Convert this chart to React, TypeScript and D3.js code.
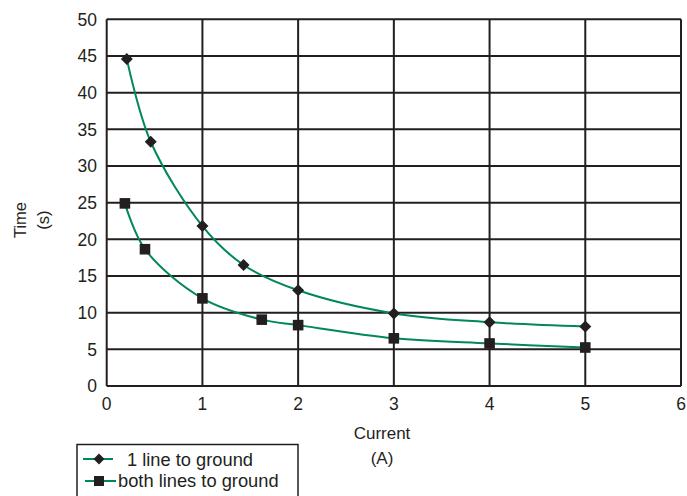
import React from "react";
import * as d3 from "d3";

const xTicks = [0, 1, 2, 3, 4, 5, 6];
const yTicks = [0, 5, 10, 15, 20, 25, 30, 35, 40, 45, 50];

const oneLineX = [0.21, 0.46, 1.0, 1.43, 2.0, 3.0, 4.0, 5.0];
const oneLineY = [44.6, 33.3, 21.8, 16.5, 13.05, 9.9, 8.7, 8.1];

const bothLinesX = [0.19, 0.4, 1.0, 1.62, 2.0, 3.0, 4.0, 5.0];
const bothLinesY = [24.9, 18.65, 11.95, 9.05, 8.3, 6.5, 5.8, 5.25];

const seriesNames = ["1 line to ground", "both lines to ground"];

const W = 687;
const H = 496;
const GREEN = "#00875a";
const INK = "#231f20";
const FONT = "'Liberation Sans', Arial, Helvetica, sans-serif";

export default function App() {
  const x = d3.scaleLinear().domain([0, 6]).range([106.7, 681]);
  const y = d3.scaleLinear().domain([0, 50]).range([386, 19.3]);

  const line = d3
    .line<[number, number]>()
    .x((d) => x(d[0]))
    .y((d) => y(d[1]))
    .curve(d3.curveCatmullRom.alpha(0.5));

  const s1: [number, number][] = oneLineX.map((v, i) => [v, oneLineY[i]]);
  const s2: [number, number][] = bothLinesX.map((v, i) => [v, bothLinesY[i]]);

  const diamond = (cx: number, cy: number, r = 6) =>
    `M${cx},${cy - r}L${cx + r},${cy}L${cx},${cy + r}L${cx - r},${cy}Z`;

  const fs = 17.5;

  return (
    <svg
      width={W}
      height={H}
      style={{ position: "absolute", left: 0, top: 0, background: "#fff" }}
      fontFamily={FONT}
    >
      {/* grid */}
      {yTicks.map((t) => (
        <line
          key={"gy" + t}
          x1={x(0)}
          x2={x(6)}
          y1={y(t)}
          y2={y(t)}
          stroke={INK}
          strokeWidth={2}
        />
      ))}
      {xTicks.map((t) => (
        <line
          key={"gx" + t}
          x1={x(t)}
          x2={x(t)}
          y1={y(0)}
          y2={y(50)}
          stroke={INK}
          strokeWidth={2}
        />
      ))}

      {/* tick labels */}
      {yTicks.map((t) => (
        <text
          key={"ty" + t}
          x={97}
          y={y(t)}
          dy="0.36em"
          textAnchor="end"
          fontSize={fs}
          fill={INK}
        >
          {t}
        </text>
      ))}
      {xTicks.map((t) => (
        <text
          key={"tx" + t}
          x={x(t)}
          y={404}
          dy="0.36em"
          textAnchor="middle"
          fontSize={fs}
          fill={INK}
        >
          {t}
        </text>
      ))}

      {/* axis titles */}
      <text
        transform="translate(20,220) rotate(-90)"
        textAnchor="middle"
        dy="0.36em"
        fontSize={16.5}
        fill={INK}
      >
        Time
      </text>
      <text
        transform="translate(43,220) rotate(-90)"
        textAnchor="middle"
        dy="0.36em"
        fontSize={16.5}
        fill={INK}
      >
        (s)
      </text>
      <text x={382} y={433} dy="0.36em" textAnchor="middle" fontSize={17} fill={INK}>
        Current
      </text>
      <text x={382} y={458} dy="0.36em" textAnchor="middle" fontSize={17} fill={INK}>
        (A)
      </text>

      {/* series */}
      <path d={line(s1) || ""} fill="none" stroke={GREEN} strokeWidth={2} />
      <path d={line(s2) || ""} fill="none" stroke={GREEN} strokeWidth={2} />
      {s1.map((d, i) => (
        <path key={"d" + i} d={diamond(x(d[0]), y(d[1]))} fill={INK} />
      ))}
      {s2.map((d, i) => (
        <rect
          key={"s" + i}
          x={x(d[0]) - 5.3}
          y={y(d[1]) - 5.3}
          width={10.6}
          height={10.6}
          fill={INK}
        />
      ))}

      {/* legend */}
      <rect
        x={77}
        y={444.5}
        width={221}
        height={60}
        fill="#fff"
        stroke={INK}
        strokeWidth={1.5}
      />
      <line x1={83} x2={113} y1={459} y2={459} stroke={GREEN} strokeWidth={2} />
      <path d={diamond(99, 459, 5.5)} fill={INK} />
      <text x={127} y={459} dy="0.36em" fontSize={18.3} fill={INK}>
        {seriesNames[0]}
      </text>
      <line x1={85} x2={116} y1={481} y2={481} stroke={GREEN} strokeWidth={2} />
      <rect x={94} y={476} width={10} height={10} fill={INK} />
      <text x={118} y={480} dy="0.36em" fontSize={18.3} fill={INK}>
        {seriesNames[1]}
      </text>
    </svg>
  );
}
